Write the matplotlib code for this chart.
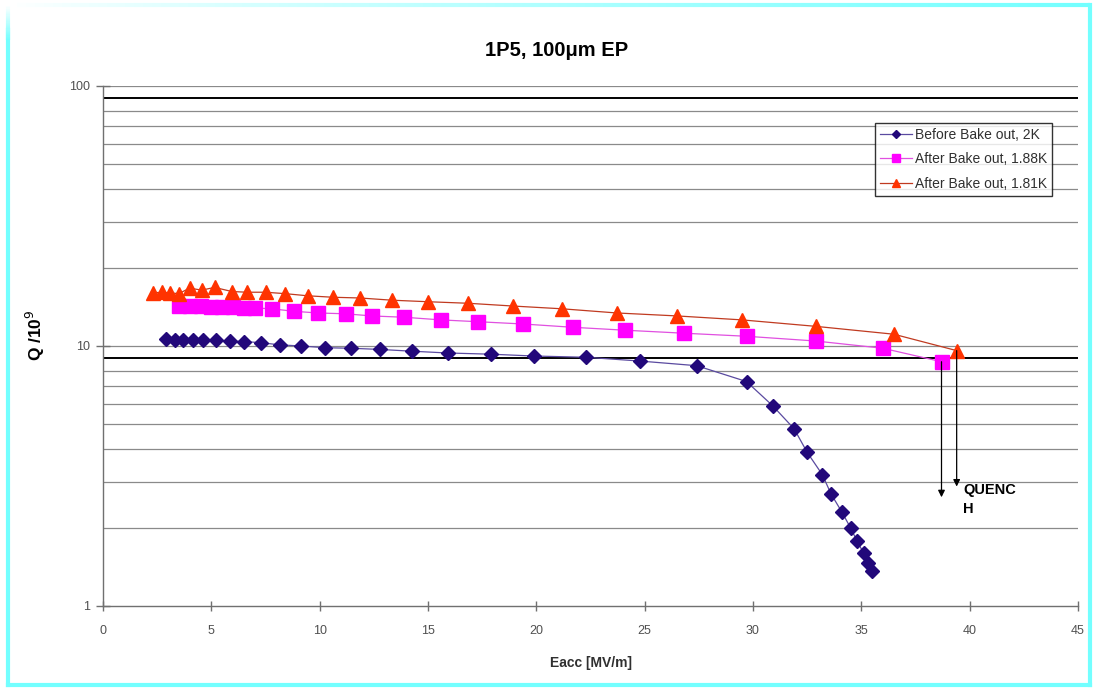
import matplotlib
matplotlib.use("Agg")
import matplotlib.pyplot as plt
import numpy as np
from matplotlib.collections import LineCollection
from matplotlib.lines import Line2D
from matplotlib.ticker import FixedLocator, NullFormatter

plt.rcParams['font.family'] = ['Liberation Sans', 'DejaVu Sans']

# Data
before_x = [2.9, 3.3, 3.7, 4.15, 4.6, 5.2, 5.85, 6.5, 7.3, 8.15, 9.15, 10.25, 11.45,
            12.8, 14.25, 15.9, 17.9, 19.9, 22.3, 24.8, 27.4, 29.7, 30.9, 31.9, 32.5,
            33.2, 33.6, 34.1, 34.5, 34.8, 35.1, 35.3, 35.5]
before_q = [10.6, 10.55, 10.55, 10.55, 10.55, 10.5, 10.45, 10.4, 10.3, 10.1, 10.0, 9.85,
            9.8, 9.7, 9.55, 9.4, 9.3, 9.15, 9.05, 8.75, 8.4, 7.3, 5.9, 4.8, 3.9,
            3.2, 2.7, 2.3, 2.0, 1.78, 1.6, 1.46, 1.36]

after188_x = [3.5, 4.0, 4.5, 5.0, 5.5, 6.0, 6.5, 7.0, 7.8, 8.8, 9.9, 11.2, 12.4, 13.9,
              15.6, 17.3, 19.4, 21.7, 24.1, 26.8, 29.7, 32.9, 36.0, 38.7]
after188_q = [14.2, 14.2, 14.2, 14.1, 14.1, 14.1, 14.0, 14.0, 13.9, 13.6, 13.4, 13.3,
              13.05, 12.9, 12.6, 12.4, 12.15, 11.8, 11.5, 11.2, 10.9, 10.45, 9.8, 8.7]

after181_x = [2.3, 2.7, 3.1, 3.5, 4.0, 4.55, 5.15, 5.95, 6.65, 7.5, 8.4, 9.45, 10.6,
              11.85, 13.35, 15.0, 16.85, 18.9, 21.2, 23.7, 26.5, 29.5, 32.9, 36.5, 39.4]
after181_q = [16.0, 16.1, 16.0, 15.9, 16.7, 16.4, 16.8, 16.2, 16.1, 16.1, 15.9, 15.6,
              15.4, 15.3, 15.0, 14.8, 14.6, 14.25, 13.9, 13.4, 13.05, 12.6, 11.9, 11.1, 9.6]

labels = ["Before Bake out, 2K", "After Bake out, 1.88K", "After Bake out, 1.81K"]
x_ticks = [0, 5, 10, 15, 20, 25, 30, 35, 40, 45]
y_ticks = [1, 10, 100]

fig = plt.figure(figsize=(10.93, 6.88), dpi=100)
fig.patch.set_facecolor('white')
ax = fig.add_axes([103/1093, 1-606/688, 975/1093, 520/688])

ax.set_yscale('log')
ax.set_xlim(0, 45)
ax.set_ylim(1, 100)

# Gridlines
minor_vals = [m * d for d in (1, 10) for m in range(2, 10)]
for v in minor_vals:
    if v in (9, 90):
        ax.axhline(v, color='black', lw=1.4, zorder=1)
    else:
        ax.axhline(v, color='#8a8a8a', lw=0.9, zorder=1)
for v in (10, 100):
    ax.axhline(v, color='#8a8a8a', lw=0.9, zorder=1)

ax.plot(before_x, before_q, color='#5a4aa0', lw=0.9, marker='D', ms=7,
        mfc='#22087a', mec='#22087a', label=labels[0], zorder=3)
ax.plot(after188_x, after188_q, color='#e050e0', lw=0.9, marker='s', ms=10,
        mfc='#ff00ff', mec='#ff00ff', label=labels[1], zorder=3)
ax.plot(after181_x, after181_q, color='#c03a20', lw=0.9, marker='^', ms=10,
        mfc='#ff3300', mec='#ff3300', label=labels[2], zorder=4)

# Quench arrows
ax.annotate('', xy=(after188_x[-1], 2.62), xytext=(after188_x[-1], after188_q[-1]),
            arrowprops=dict(arrowstyle='-|>', color='black', lw=0.9,
                            mutation_scale=10, shrinkA=0, shrinkB=0), zorder=5)
ax.annotate('', xy=(after181_x[-1], 2.88), xytext=(after181_x[-1], after181_q[-1]),
            arrowprops=dict(arrowstyle='-|>', color='black', lw=0.9,
                            mutation_scale=10, shrinkA=0, shrinkB=0), zorder=5)
ax.text(39.7, 2.98, "QUENC\nH", fontsize=10.5, fontweight='bold', ha='left', va='top',
        linespacing=1.45, zorder=5)

# Axes styling
for s in ('top', 'right'):
    ax.spines[s].set_visible(False)
for s in ('left', 'bottom'):
    ax.spines[s].set_color('#707070')
    ax.spines[s].set_linewidth(1.0)
ax.yaxis.set_major_locator(FixedLocator(y_ticks))
ax.yaxis.set_minor_locator(FixedLocator(minor_vals))
ax.yaxis.set_minor_formatter(NullFormatter())
ax.set_yticklabels([str(v) for v in y_ticks])
ax.set_xticks(x_ticks)
ax.set_xticklabels([str(v) for v in x_ticks])
ax.tick_params(axis='y', which='major', direction='inout', length=10, width=1,
               color='#707070', labelsize=9, labelcolor='#505050', pad=4)
ax.tick_params(axis='y', which='minor', length=0)
ax.tick_params(axis='x', which='major', direction='inout', length=7, width=1,
               color='#707070', labelsize=9, labelcolor='#505050', pad=10)

ax.set_xlabel("Eacc [MV/m]", fontsize=10, fontweight='bold', color='#303030', labelpad=14)
ax.set_ylabel("Q /10$^{9}$", fontsize=12.5, fontweight='bold', labelpad=14)
ax.yaxis.set_label_coords(-(103 - 47) / 975, (606 - 335) / 520)
fig.text(557/1093, 1-50/688, "1P5, 100\u03bcm EP", fontsize=14.5, fontweight='bold',
         ha='center', va='center')

leg = ax.legend(loc='upper right', bbox_to_anchor=((1052-103)/975, (606-123)/520),
                fontsize=10, frameon=True, fancybox=False, borderpad=0.35,
                handlelength=2.3, labelspacing=0.75, handletextpad=0.2,
                markerscale=0.6, borderaxespad=0)
leg.get_frame().set_edgecolor('black')
leg.get_frame().set_linewidth(1.0)
for t in leg.get_texts():
    t.set_color('#303030')

# Cyan frame around figure
W, H = 1093, 688
cyan = np.array([0.45, 1.0, 1.0])
def fx(px):
    return px / W
def fy(py):
    return 1 - py / H
fig.add_artist(Line2D([fx(8), fx(8)], [fy(30), fy(685)], color=cyan, lw=3))
fig.add_artist(Line2D([fx(8), fx(1090)], [fy(685), fy(685)], color=cyan, lw=3))
fig.add_artist(Line2D([fx(1090), fx(1090)], [fy(5), fy(685)], color=cyan, lw=3))
n = 120
xs = np.linspace(fx(8), fx(1090), n + 1)
segs = [[(xs[i], fy(5)), (xs[i + 1], fy(5))] for i in range(n)]
t = np.linspace(0, 1, n) ** 0.8
cols = [tuple((1 - ti) * np.array([1, 1, 1]) + ti * cyan) for ti in t]
lc = LineCollection(segs, colors=cols, linewidths=3, transform=fig.transFigure)
fig.add_artist(lc)
n2 = 30
ys = np.linspace(fy(5), fy(40), n2 + 1)
segs2 = [[(fx(8), ys[i]), (fx(8), ys[i + 1])] for i in range(n2)]
t2 = np.linspace(0, 1, n2)
cols2 = [tuple((1 - ti) * np.array([1, 1, 1]) + ti * cyan) for ti in t2]
fig.add_artist(LineCollection(segs2, colors=cols2, linewidths=3, transform=fig.transFigure))

fig.savefig("out.png", dpi=100, facecolor='white')
